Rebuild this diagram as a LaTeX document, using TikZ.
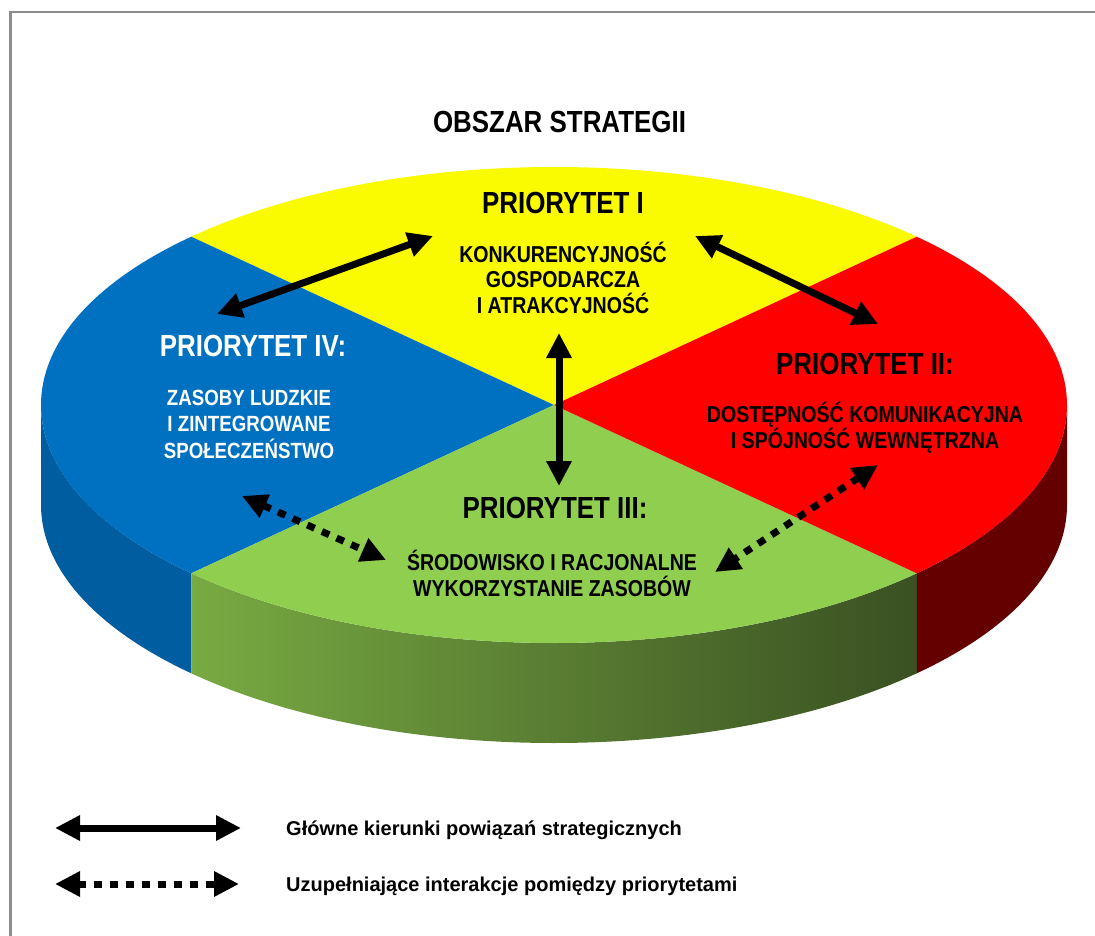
\documentclass[tikz,border=0pt]{standalone}
\usepackage{fontspec}
\setmainfont{Liberation Sans}
\newfontfamily\narrowfont{Liberation Sans}[FakeStretch=0.85]
\usetikzlibrary{arrows.meta}

\definecolor{pyellow}{RGB}{250,250,0}
\definecolor{pblue}{RGB}{0,112,192}
\definecolor{pred}{RGB}{255,0,0}
\definecolor{pgreen}{RGB}{144,206,80}
\definecolor{pblueside}{RGB}{0,94,160}
\definecolor{pgreenleft}{RGB}{120,170,66}
\definecolor{pgreenright}{RGB}{58,80,34}
\definecolor{predside}{RGB}{100,0,0}
\definecolor{framegray}{RGB}{140,140,140}

\tikzset{
  head/.style={inner sep=0pt, font=\narrowfont\bfseries\fontsize{30.5}{34}\selectfont},
  sub/.style={inner sep=0pt, align=center, font=\narrowfont\bfseries\fontsize{23}{25.5}\selectfont},
  legendtext/.style={inner sep=0pt, font=\bfseries\fontsize{20}{22}\selectfont},
  mainlink/.style={line width=7pt, {Triangle[length=25pt,width=24pt]}-{Triangle[length=25pt,width=24pt]}},
  sidelink/.style={mainlink, dash pattern=on 8pt off 8pt},
}

\begin{document}
\begin{tikzpicture}[x=1pt,y=1pt]
    \useasboundingbox (0,0) rectangle (1095,-936);
    \draw[framegray, line width=2.5pt] (10.5,-936) -- (10.5,-12) -- (1095,-12);

    \coordinate (c) at (554,-405);

    % side of the disc
    \fill[pblueside] (41,-405) arc[start angle=180, end angle=225, x radius=513, y radius=238]
        -- ++(0,-100) arc[start angle=225, end angle=180, x radius=513, y radius=238] -- cycle;
    \shade[left color=pgreenleft, right color=pgreenright] (191.25,-573.29)
        arc[start angle=225, end angle=315, x radius=513, y radius=238]
        -- ++(0,-100) arc[start angle=315, end angle=225, x radius=513, y radius=238] -- cycle;
    \fill[predside] (916.75,-573.29) arc[start angle=315, end angle=360, x radius=513, y radius=238]
        -- ++(0,-100) arc[start angle=360, end angle=315, x radius=513, y radius=238] -- cycle;

    % top of the disc
    \foreach \col/\a in {pyellow/45, pblue/135, pgreen/225, pred/315}
        \fill[\col] (c) -- ++(\a:513 and 238)
            arc[start angle=\a, delta angle=90, x radius=513, y radius=238] -- cycle;

    \node[head] (title) at (559.5,-122) {OBSZAR STRATEGII};

    \node[head] (p1) at (563,-203) {PRIORYTET I};
    \node[sub, anchor=base] (p1text) at (563,-313) {KONKURENCYJNOŚĆ\\GOSPODARCZA\\I ATRAKCYJNOŚĆ};

    \node[head] (p2) at (865,-364) {PRIORYTET II:};
    \node[sub, anchor=base] (p2text) at (865,-448) {DOSTĘPNOŚĆ KOMUNIKACYJNA\\I SPÓJNOŚĆ WEWNĘTRZNA};

    \node[head] (p3) at (555,-508) {PRIORYTET III:};
    \node[sub, anchor=base] (p3text) at (552,-596) {ŚRODOWISKO I RACJONALNE\\WYKORZYSTANIE ZASOBÓW};

    \node[head, white] (p4) at (253,-346) {PRIORYTET IV:};
    \node[sub, white, anchor=base, font=\narrowfont\bfseries\fontsize{22}{26.5}\selectfont] (p4text) at (249,-458)
        {ZASOBY LUDZKIE\\I ZINTEGROWANE\\SPOŁECZEŃSTWO};

    % links between priorities
    \coordinate (a1) at (433,-236);
    \coordinate (a2) at (217,-314);
    \coordinate (b1) at (695,-236);
    \coordinate (b2) at (878,-324);
    \coordinate (v1) at (559,-333);
    \coordinate (v2) at (559,-486);
    \coordinate (d1) at (242,-496);
    \coordinate (d2) at (386,-560);
    \coordinate (e1) at (878,-465);
    \coordinate (e2) at (715,-572);

    \draw[mainlink] (a1) -- (a2);
    \draw[mainlink] (b1) -- (b2);
    \draw[mainlink] (v1) -- (v2);
    \draw[sidelink] (d1) -- (d2);
    \draw[sidelink] (e1) -- (e2);

    % legend
    \coordinate (l1a) at (55,-828);
    \coordinate (l1b) at (241,-828);
    \coordinate (l2a) at (55,-884);
    \coordinate (l2b) at (239,-884);
    \draw[mainlink] (l1a) -- (l1b);
    \draw[sidelink] (l2a) -- (l2b);
    \node[legendtext, anchor=base west] (lg1) at (286,-835) {Główne kierunki powiązań strategicznych};
    \node[legendtext, anchor=base west] (lg2) at (286,-891) {Uzupełniające interakcje pomiędzy priorytetami};
\end{tikzpicture}
\end{document}
